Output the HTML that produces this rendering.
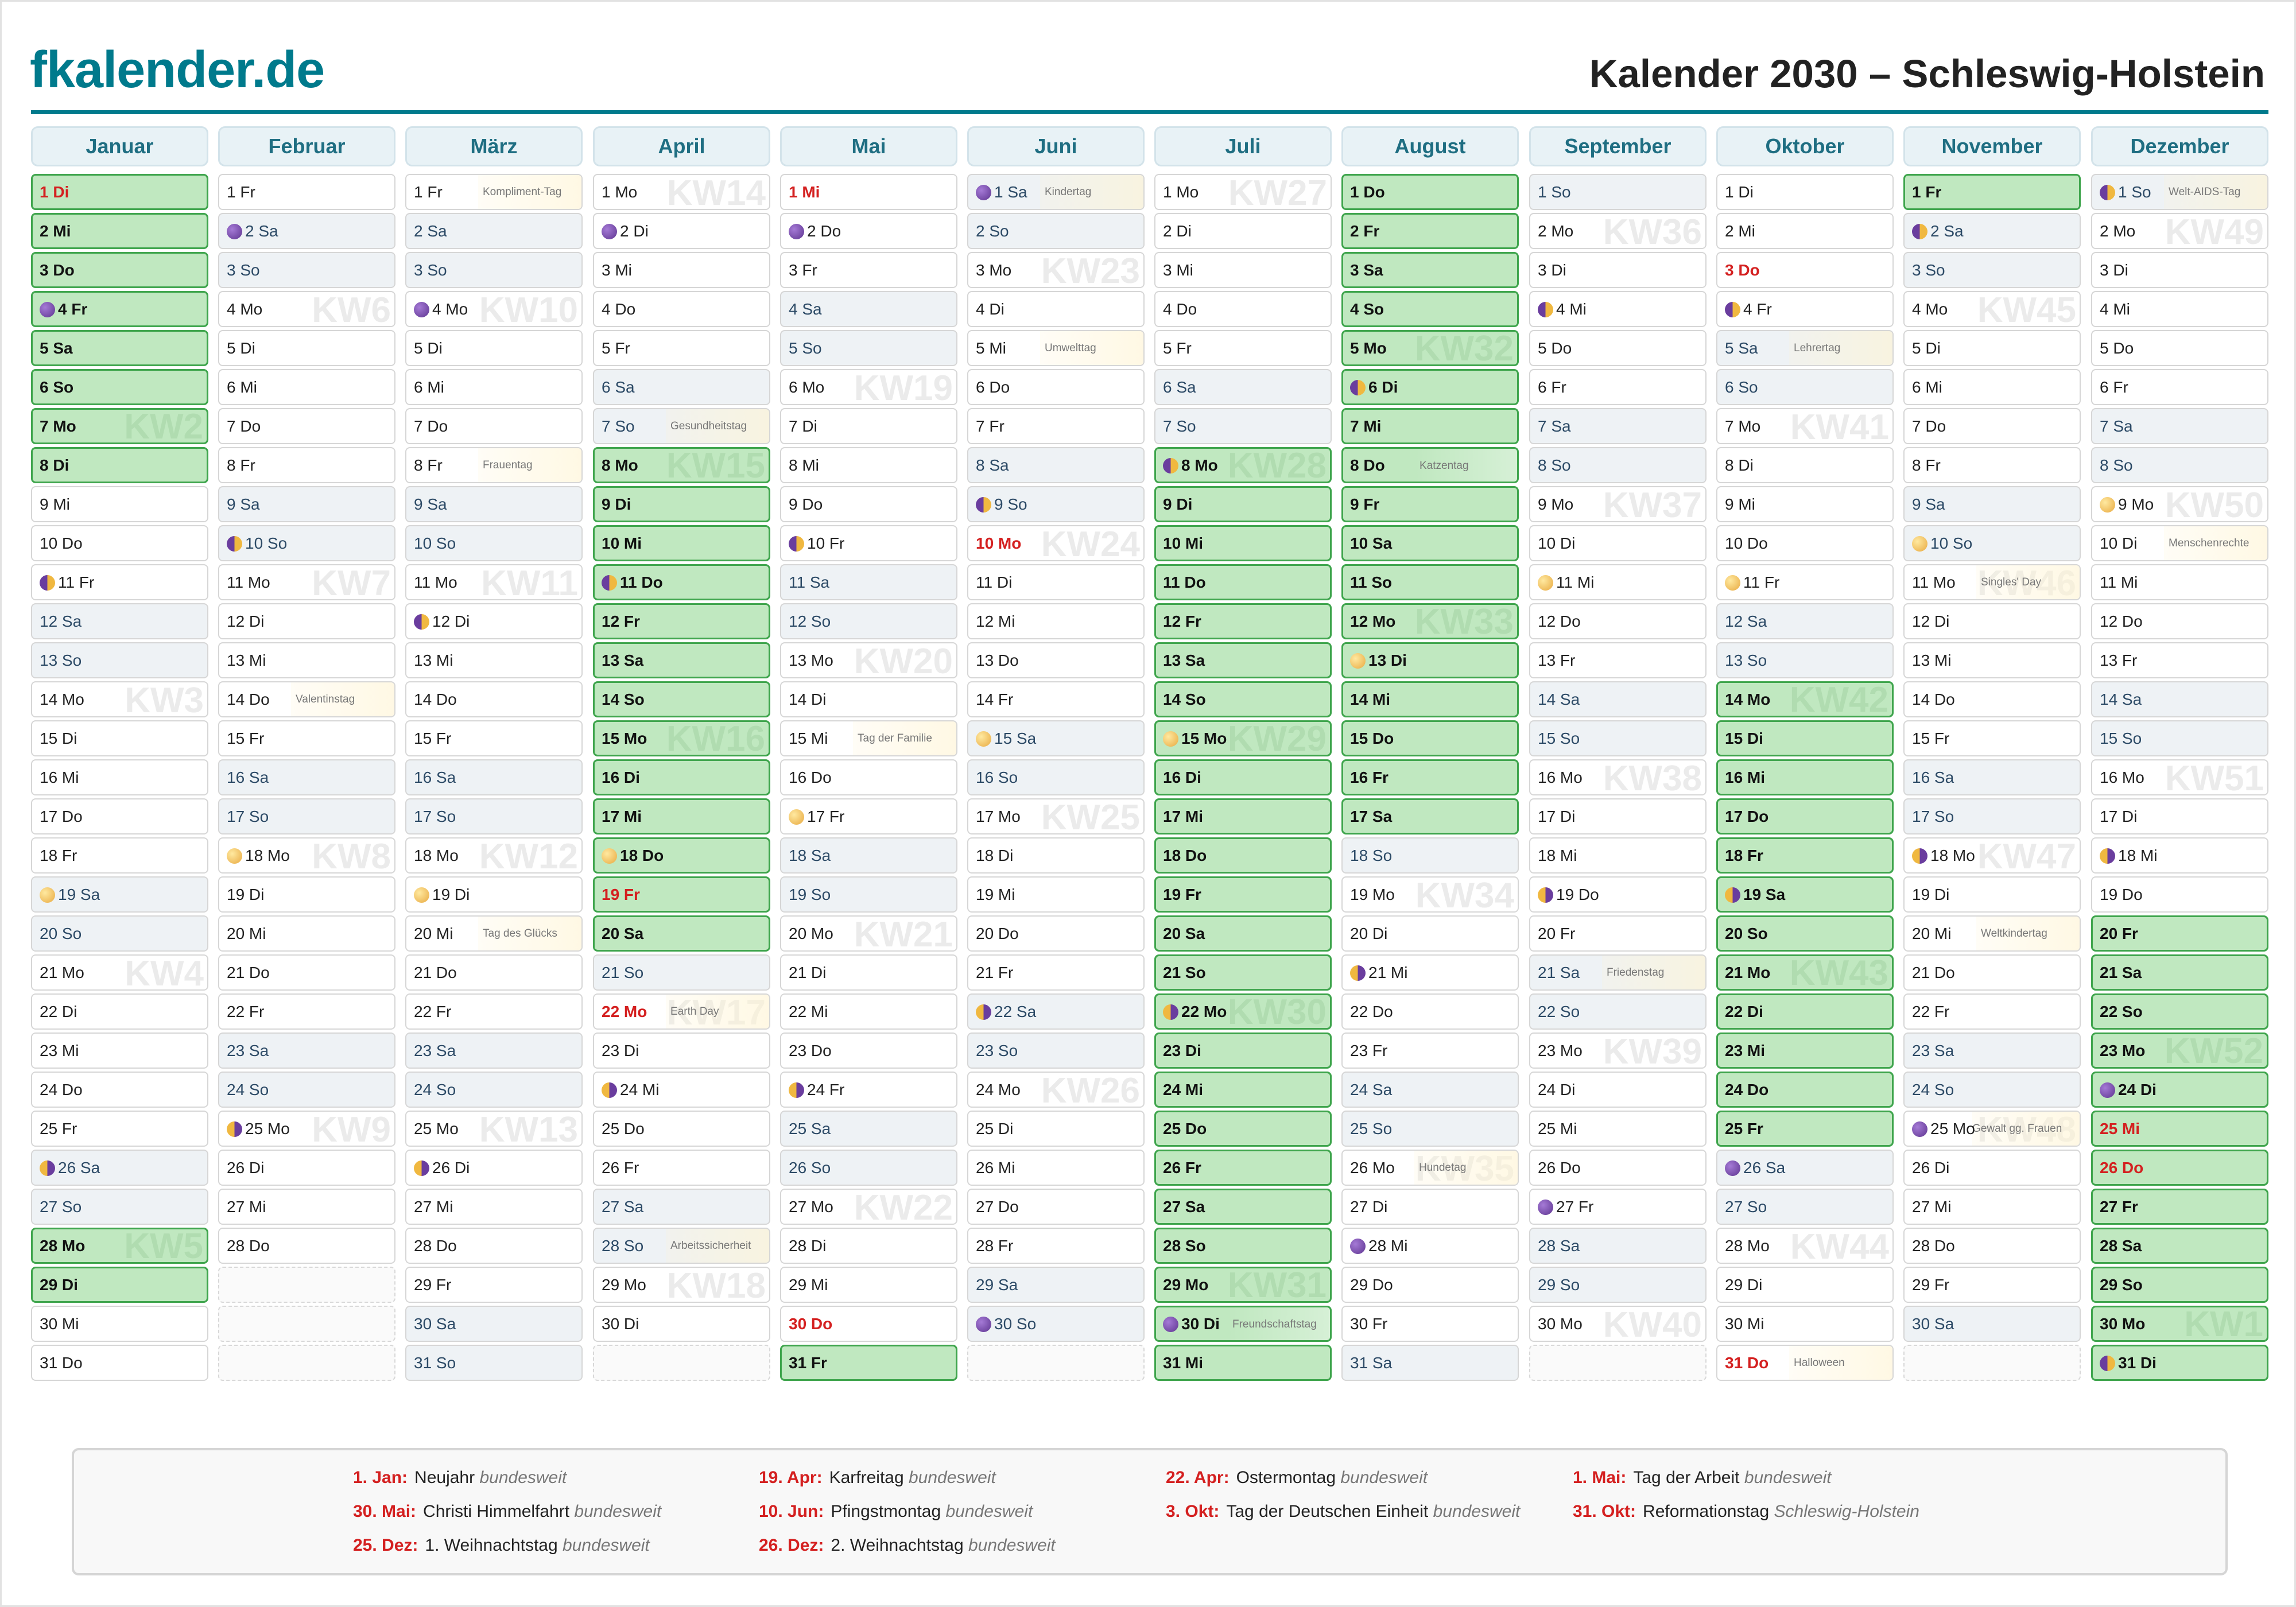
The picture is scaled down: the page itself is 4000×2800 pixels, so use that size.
<!DOCTYPE html>
<html><head><meta charset="utf-8">
<style>
*{box-sizing:border-box;margin:0;padding:0}
body{width:4000px;height:2800px;background:#fff;font-family:"Liberation Sans","DejaVu Sans",sans-serif;position:relative;overflow:hidden;border:3px solid #e2e2e2}
.logo{position:absolute;left:49px;top:68px;font-size:90px;font-weight:bold;color:#007a8c;letter-spacing:-1px}
.title{position:absolute;right:51px;top:86px;font-size:69px;font-weight:bold;color:#222}
.line{position:absolute;left:51px;width:3898px;top:189px;height:7px;background:#007a8c}
.col{position:absolute;top:217px;width:309px}
.h{height:70px;margin-bottom:13px;border:3px solid #d3e3ea;border-radius:12px;background:#e8f2f6;text-align:center;line-height:64px;font-size:36px;font-weight:bold;color:#1f6e82}
.c{position:relative;height:63px;margin-bottom:5px;border:2px solid #d6d6d6;border-radius:8px;background:#fff;font-size:28px;line-height:59px;padding-left:13px;color:#222;overflow:hidden;white-space:nowrap}
.c span{position:relative}
.w{background:#eef2f5;color:#2c4a66}
.g{background:#c0e8c0;border:3px solid #3fa54d;font-weight:bold;color:#111;line-height:57px;padding-left:12px}
.r{color:#d42020!important;font-weight:bold}
.e{border:2px dashed #d8d8d8;background:#fafafa}
.k{position:absolute;right:6px;top:0;font-size:62px;font-weight:bold;color:#ebebeb;line-height:63px}
.g .k{color:#b0dcb0;line-height:59px}
.m{display:inline-block;width:27px;height:27px;border-radius:50%;vertical-align:-5px;margin-right:5px;position:relative}
.n{background:radial-gradient(circle at 35% 35%,#a57ad6,#5e3590)}
.f{background:radial-gradient(circle at 35% 35%,#ffe9a0,#e8a940)}
.h1{background:linear-gradient(90deg,#f0b840 50%,#6a3d9e 50%)}
.h2{background:linear-gradient(90deg,#6a3d9e 50%,#f0b840 50%)}
.s{position:absolute;left:125px;top:0;right:0;padding-left:8px;font-size:19px;color:#777;font-weight:normal;background:linear-gradient(90deg,rgba(255,244,210,.2),rgba(255,244,210,.6));line-height:59px}
.g .s{background:linear-gradient(90deg,rgba(255,255,255,0),rgba(255,255,255,.35))}
.leg{position:absolute;left:122px;top:2520px;width:3756px;height:222px;border:4px solid #d5d5d5;border-radius:12px;background:#f8f8f8}
.li{position:absolute;font-size:30px;color:#222;white-space:nowrap}
.li b{color:#d42020;margin-right:12px}
.li i{color:#777}
</style></head><body>
<div class="logo">fkalender.de</div>
<div class="title">Kalender 2030 – Schleswig-Holstein</div>
<div class="line"></div>

<div class="col" style="left:51px"><div class="h">Januar</div>
<div class="c g r"><span>1 Di</span></div>
<div class="c g"><span>2 Mi</span></div>
<div class="c g"><span>3 Do</span></div>
<div class="c g"><i class="m n"></i><span>4 Fr</span></div>
<div class="c g"><span>5 Sa</span></div>
<div class="c g"><span>6 So</span></div>
<div class="c g"><b class="k">KW2</b><span>7 Mo</span></div>
<div class="c g"><span>8 Di</span></div>
<div class="c"><span>9 Mi</span></div>
<div class="c"><span>10 Do</span></div>
<div class="c"><i class="m h2"></i><span>11 Fr</span></div>
<div class="c w"><span>12 Sa</span></div>
<div class="c w"><span>13 So</span></div>
<div class="c"><b class="k">KW3</b><span>14 Mo</span></div>
<div class="c"><span>15 Di</span></div>
<div class="c"><span>16 Mi</span></div>
<div class="c"><span>17 Do</span></div>
<div class="c"><span>18 Fr</span></div>
<div class="c w"><i class="m f"></i><span>19 Sa</span></div>
<div class="c w"><span>20 So</span></div>
<div class="c"><b class="k">KW4</b><span>21 Mo</span></div>
<div class="c"><span>22 Di</span></div>
<div class="c"><span>23 Mi</span></div>
<div class="c"><span>24 Do</span></div>
<div class="c"><span>25 Fr</span></div>
<div class="c w"><i class="m h1"></i><span>26 Sa</span></div>
<div class="c w"><span>27 So</span></div>
<div class="c g"><b class="k">KW5</b><span>28 Mo</span></div>
<div class="c g"><span>29 Di</span></div>
<div class="c"><span>30 Mi</span></div>
<div class="c"><span>31 Do</span></div>
</div>

<div class="col" style="left:377px"><div class="h">Februar</div>
<div class="c"><span>1 Fr</span></div>
<div class="c w"><i class="m n"></i><span>2 Sa</span></div>
<div class="c w"><span>3 So</span></div>
<div class="c"><b class="k">KW6</b><span>4 Mo</span></div>
<div class="c"><span>5 Di</span></div>
<div class="c"><span>6 Mi</span></div>
<div class="c"><span>7 Do</span></div>
<div class="c"><span>8 Fr</span></div>
<div class="c w"><span>9 Sa</span></div>
<div class="c w"><i class="m h2"></i><span>10 So</span></div>
<div class="c"><b class="k">KW7</b><span>11 Mo</span></div>
<div class="c"><span>12 Di</span></div>
<div class="c"><span>13 Mi</span></div>
<div class="c"><div class="s">Valentinstag</div><span>14 Do</span></div>
<div class="c"><span>15 Fr</span></div>
<div class="c w"><span>16 Sa</span></div>
<div class="c w"><span>17 So</span></div>
<div class="c"><b class="k">KW8</b><i class="m f"></i><span>18 Mo</span></div>
<div class="c"><span>19 Di</span></div>
<div class="c"><span>20 Mi</span></div>
<div class="c"><span>21 Do</span></div>
<div class="c"><span>22 Fr</span></div>
<div class="c w"><span>23 Sa</span></div>
<div class="c w"><span>24 So</span></div>
<div class="c"><b class="k">KW9</b><i class="m h1"></i><span>25 Mo</span></div>
<div class="c"><span>26 Di</span></div>
<div class="c"><span>27 Mi</span></div>
<div class="c"><span>28 Do</span></div>
<div class="c e"></div>
<div class="c e"></div>
<div class="c e"></div>
</div>

<div class="col" style="left:703px"><div class="h">März</div>
<div class="c"><div class="s">Kompliment-Tag</div><span>1 Fr</span></div>
<div class="c w"><span>2 Sa</span></div>
<div class="c w"><span>3 So</span></div>
<div class="c"><b class="k">KW10</b><i class="m n"></i><span>4 Mo</span></div>
<div class="c"><span>5 Di</span></div>
<div class="c"><span>6 Mi</span></div>
<div class="c"><span>7 Do</span></div>
<div class="c"><div class="s">Frauentag</div><span>8 Fr</span></div>
<div class="c w"><span>9 Sa</span></div>
<div class="c w"><span>10 So</span></div>
<div class="c"><b class="k">KW11</b><span>11 Mo</span></div>
<div class="c"><i class="m h2"></i><span>12 Di</span></div>
<div class="c"><span>13 Mi</span></div>
<div class="c"><span>14 Do</span></div>
<div class="c"><span>15 Fr</span></div>
<div class="c w"><span>16 Sa</span></div>
<div class="c w"><span>17 So</span></div>
<div class="c"><b class="k">KW12</b><span>18 Mo</span></div>
<div class="c"><i class="m f"></i><span>19 Di</span></div>
<div class="c"><div class="s">Tag des Glücks</div><span>20 Mi</span></div>
<div class="c"><span>21 Do</span></div>
<div class="c"><span>22 Fr</span></div>
<div class="c w"><span>23 Sa</span></div>
<div class="c w"><span>24 So</span></div>
<div class="c"><b class="k">KW13</b><span>25 Mo</span></div>
<div class="c"><i class="m h1"></i><span>26 Di</span></div>
<div class="c"><span>27 Mi</span></div>
<div class="c"><span>28 Do</span></div>
<div class="c"><span>29 Fr</span></div>
<div class="c w"><span>30 Sa</span></div>
<div class="c w"><span>31 So</span></div>
</div>

<div class="col" style="left:1030px"><div class="h">April</div>
<div class="c"><b class="k">KW14</b><span>1 Mo</span></div>
<div class="c"><i class="m n"></i><span>2 Di</span></div>
<div class="c"><span>3 Mi</span></div>
<div class="c"><span>4 Do</span></div>
<div class="c"><span>5 Fr</span></div>
<div class="c w"><span>6 Sa</span></div>
<div class="c w"><div class="s">Gesundheitstag</div><span>7 So</span></div>
<div class="c g"><b class="k">KW15</b><span>8 Mo</span></div>
<div class="c g"><span>9 Di</span></div>
<div class="c g"><span>10 Mi</span></div>
<div class="c g"><i class="m h2"></i><span>11 Do</span></div>
<div class="c g"><span>12 Fr</span></div>
<div class="c g"><span>13 Sa</span></div>
<div class="c g"><span>14 So</span></div>
<div class="c g"><b class="k">KW16</b><span>15 Mo</span></div>
<div class="c g"><span>16 Di</span></div>
<div class="c g"><span>17 Mi</span></div>
<div class="c g"><i class="m f"></i><span>18 Do</span></div>
<div class="c g r"><span>19 Fr</span></div>
<div class="c g"><span>20 Sa</span></div>
<div class="c w"><span>21 So</span></div>
<div class="c r"><b class="k">KW17</b><div class="s">Earth Day</div><span>22 Mo</span></div>
<div class="c"><span>23 Di</span></div>
<div class="c"><i class="m h1"></i><span>24 Mi</span></div>
<div class="c"><span>25 Do</span></div>
<div class="c"><span>26 Fr</span></div>
<div class="c w"><span>27 Sa</span></div>
<div class="c w"><div class="s">Arbeitssicherheit</div><span>28 So</span></div>
<div class="c"><b class="k">KW18</b><span>29 Mo</span></div>
<div class="c"><span>30 Di</span></div>
<div class="c e"></div>
</div>

<div class="col" style="left:1356px"><div class="h">Mai</div>
<div class="c r"><span>1 Mi</span></div>
<div class="c"><i class="m n"></i><span>2 Do</span></div>
<div class="c"><span>3 Fr</span></div>
<div class="c w"><span>4 Sa</span></div>
<div class="c w"><span>5 So</span></div>
<div class="c"><b class="k">KW19</b><span>6 Mo</span></div>
<div class="c"><span>7 Di</span></div>
<div class="c"><span>8 Mi</span></div>
<div class="c"><span>9 Do</span></div>
<div class="c"><i class="m h2"></i><span>10 Fr</span></div>
<div class="c w"><span>11 Sa</span></div>
<div class="c w"><span>12 So</span></div>
<div class="c"><b class="k">KW20</b><span>13 Mo</span></div>
<div class="c"><span>14 Di</span></div>
<div class="c"><div class="s">Tag der Familie</div><span>15 Mi</span></div>
<div class="c"><span>16 Do</span></div>
<div class="c"><i class="m f"></i><span>17 Fr</span></div>
<div class="c w"><span>18 Sa</span></div>
<div class="c w"><span>19 So</span></div>
<div class="c"><b class="k">KW21</b><span>20 Mo</span></div>
<div class="c"><span>21 Di</span></div>
<div class="c"><span>22 Mi</span></div>
<div class="c"><span>23 Do</span></div>
<div class="c"><i class="m h1"></i><span>24 Fr</span></div>
<div class="c w"><span>25 Sa</span></div>
<div class="c w"><span>26 So</span></div>
<div class="c"><b class="k">KW22</b><span>27 Mo</span></div>
<div class="c"><span>28 Di</span></div>
<div class="c"><span>29 Mi</span></div>
<div class="c r"><span>30 Do</span></div>
<div class="c g"><span>31 Fr</span></div>
</div>

<div class="col" style="left:1682px"><div class="h">Juni</div>
<div class="c w"><div class="s">Kindertag</div><i class="m n"></i><span>1 Sa</span></div>
<div class="c w"><span>2 So</span></div>
<div class="c"><b class="k">KW23</b><span>3 Mo</span></div>
<div class="c"><span>4 Di</span></div>
<div class="c"><div class="s">Umwelttag</div><span>5 Mi</span></div>
<div class="c"><span>6 Do</span></div>
<div class="c"><span>7 Fr</span></div>
<div class="c w"><span>8 Sa</span></div>
<div class="c w"><i class="m h2"></i><span>9 So</span></div>
<div class="c r"><b class="k">KW24</b><span>10 Mo</span></div>
<div class="c"><span>11 Di</span></div>
<div class="c"><span>12 Mi</span></div>
<div class="c"><span>13 Do</span></div>
<div class="c"><span>14 Fr</span></div>
<div class="c w"><i class="m f"></i><span>15 Sa</span></div>
<div class="c w"><span>16 So</span></div>
<div class="c"><b class="k">KW25</b><span>17 Mo</span></div>
<div class="c"><span>18 Di</span></div>
<div class="c"><span>19 Mi</span></div>
<div class="c"><span>20 Do</span></div>
<div class="c"><span>21 Fr</span></div>
<div class="c w"><i class="m h1"></i><span>22 Sa</span></div>
<div class="c w"><span>23 So</span></div>
<div class="c"><b class="k">KW26</b><span>24 Mo</span></div>
<div class="c"><span>25 Di</span></div>
<div class="c"><span>26 Mi</span></div>
<div class="c"><span>27 Do</span></div>
<div class="c"><span>28 Fr</span></div>
<div class="c w"><span>29 Sa</span></div>
<div class="c w"><i class="m n"></i><span>30 So</span></div>
<div class="c e"></div>
</div>

<div class="col" style="left:2008px"><div class="h">Juli</div>
<div class="c"><b class="k">KW27</b><span>1 Mo</span></div>
<div class="c"><span>2 Di</span></div>
<div class="c"><span>3 Mi</span></div>
<div class="c"><span>4 Do</span></div>
<div class="c"><span>5 Fr</span></div>
<div class="c w"><span>6 Sa</span></div>
<div class="c w"><span>7 So</span></div>
<div class="c g"><b class="k">KW28</b><i class="m h2"></i><span>8 Mo</span></div>
<div class="c g"><span>9 Di</span></div>
<div class="c g"><span>10 Mi</span></div>
<div class="c g"><span>11 Do</span></div>
<div class="c g"><span>12 Fr</span></div>
<div class="c g"><span>13 Sa</span></div>
<div class="c g"><span>14 So</span></div>
<div class="c g"><b class="k">KW29</b><i class="m f"></i><span>15 Mo</span></div>
<div class="c g"><span>16 Di</span></div>
<div class="c g"><span>17 Mi</span></div>
<div class="c g"><span>18 Do</span></div>
<div class="c g"><span>19 Fr</span></div>
<div class="c g"><span>20 Sa</span></div>
<div class="c g"><span>21 So</span></div>
<div class="c g"><b class="k">KW30</b><i class="m h1"></i><span>22 Mo</span></div>
<div class="c g"><span>23 Di</span></div>
<div class="c g"><span>24 Mi</span></div>
<div class="c g"><span>25 Do</span></div>
<div class="c g"><span>26 Fr</span></div>
<div class="c g"><span>27 Sa</span></div>
<div class="c g"><span>28 So</span></div>
<div class="c g"><b class="k">KW31</b><span>29 Mo</span></div>
<div class="c g"><div class="s">Freundschaftstag</div><i class="m n"></i><span>30 Di</span></div>
<div class="c g"><span>31 Mi</span></div>
</div>

<div class="col" style="left:2334px"><div class="h">August</div>
<div class="c g"><span>1 Do</span></div>
<div class="c g"><span>2 Fr</span></div>
<div class="c g"><span>3 Sa</span></div>
<div class="c g"><span>4 So</span></div>
<div class="c g"><b class="k">KW32</b><span>5 Mo</span></div>
<div class="c g"><i class="m h2"></i><span>6 Di</span></div>
<div class="c g"><span>7 Mi</span></div>
<div class="c g"><div class="s">Katzentag</div><span>8 Do</span></div>
<div class="c g"><span>9 Fr</span></div>
<div class="c g"><span>10 Sa</span></div>
<div class="c g"><span>11 So</span></div>
<div class="c g"><b class="k">KW33</b><span>12 Mo</span></div>
<div class="c g"><i class="m f"></i><span>13 Di</span></div>
<div class="c g"><span>14 Mi</span></div>
<div class="c g"><span>15 Do</span></div>
<div class="c g"><span>16 Fr</span></div>
<div class="c g"><span>17 Sa</span></div>
<div class="c w"><span>18 So</span></div>
<div class="c"><b class="k">KW34</b><span>19 Mo</span></div>
<div class="c"><span>20 Di</span></div>
<div class="c"><i class="m h1"></i><span>21 Mi</span></div>
<div class="c"><span>22 Do</span></div>
<div class="c"><span>23 Fr</span></div>
<div class="c w"><span>24 Sa</span></div>
<div class="c w"><span>25 So</span></div>
<div class="c"><b class="k">KW35</b><div class="s">Hundetag</div><span>26 Mo</span></div>
<div class="c"><span>27 Di</span></div>
<div class="c"><i class="m n"></i><span>28 Mi</span></div>
<div class="c"><span>29 Do</span></div>
<div class="c"><span>30 Fr</span></div>
<div class="c w"><span>31 Sa</span></div>
</div>

<div class="col" style="left:2661px"><div class="h">September</div>
<div class="c w"><span>1 So</span></div>
<div class="c"><b class="k">KW36</b><span>2 Mo</span></div>
<div class="c"><span>3 Di</span></div>
<div class="c"><i class="m h2"></i><span>4 Mi</span></div>
<div class="c"><span>5 Do</span></div>
<div class="c"><span>6 Fr</span></div>
<div class="c w"><span>7 Sa</span></div>
<div class="c w"><span>8 So</span></div>
<div class="c"><b class="k">KW37</b><span>9 Mo</span></div>
<div class="c"><span>10 Di</span></div>
<div class="c"><i class="m f"></i><span>11 Mi</span></div>
<div class="c"><span>12 Do</span></div>
<div class="c"><span>13 Fr</span></div>
<div class="c w"><span>14 Sa</span></div>
<div class="c w"><span>15 So</span></div>
<div class="c"><b class="k">KW38</b><span>16 Mo</span></div>
<div class="c"><span>17 Di</span></div>
<div class="c"><span>18 Mi</span></div>
<div class="c"><i class="m h1"></i><span>19 Do</span></div>
<div class="c"><span>20 Fr</span></div>
<div class="c w"><div class="s">Friedenstag</div><span>21 Sa</span></div>
<div class="c w"><span>22 So</span></div>
<div class="c"><b class="k">KW39</b><span>23 Mo</span></div>
<div class="c"><span>24 Di</span></div>
<div class="c"><span>25 Mi</span></div>
<div class="c"><span>26 Do</span></div>
<div class="c"><i class="m n"></i><span>27 Fr</span></div>
<div class="c w"><span>28 Sa</span></div>
<div class="c w"><span>29 So</span></div>
<div class="c"><b class="k">KW40</b><span>30 Mo</span></div>
<div class="c e"></div>
</div>

<div class="col" style="left:2987px"><div class="h">Oktober</div>
<div class="c"><span>1 Di</span></div>
<div class="c"><span>2 Mi</span></div>
<div class="c r"><span>3 Do</span></div>
<div class="c"><i class="m h2"></i><span>4 Fr</span></div>
<div class="c w"><div class="s">Lehrertag</div><span>5 Sa</span></div>
<div class="c w"><span>6 So</span></div>
<div class="c"><b class="k">KW41</b><span>7 Mo</span></div>
<div class="c"><span>8 Di</span></div>
<div class="c"><span>9 Mi</span></div>
<div class="c"><span>10 Do</span></div>
<div class="c"><i class="m f"></i><span>11 Fr</span></div>
<div class="c w"><span>12 Sa</span></div>
<div class="c w"><span>13 So</span></div>
<div class="c g"><b class="k">KW42</b><span>14 Mo</span></div>
<div class="c g"><span>15 Di</span></div>
<div class="c g"><span>16 Mi</span></div>
<div class="c g"><span>17 Do</span></div>
<div class="c g"><span>18 Fr</span></div>
<div class="c g"><i class="m h1"></i><span>19 Sa</span></div>
<div class="c g"><span>20 So</span></div>
<div class="c g"><b class="k">KW43</b><span>21 Mo</span></div>
<div class="c g"><span>22 Di</span></div>
<div class="c g"><span>23 Mi</span></div>
<div class="c g"><span>24 Do</span></div>
<div class="c g"><span>25 Fr</span></div>
<div class="c w"><i class="m n"></i><span>26 Sa</span></div>
<div class="c w"><span>27 So</span></div>
<div class="c"><b class="k">KW44</b><span>28 Mo</span></div>
<div class="c"><span>29 Di</span></div>
<div class="c"><span>30 Mi</span></div>
<div class="c r"><div class="s">Halloween</div><span>31 Do</span></div>
</div>

<div class="col" style="left:3313px"><div class="h">November</div>
<div class="c g"><span>1 Fr</span></div>
<div class="c w"><i class="m h2"></i><span>2 Sa</span></div>
<div class="c w"><span>3 So</span></div>
<div class="c"><b class="k">KW45</b><span>4 Mo</span></div>
<div class="c"><span>5 Di</span></div>
<div class="c"><span>6 Mi</span></div>
<div class="c"><span>7 Do</span></div>
<div class="c"><span>8 Fr</span></div>
<div class="c w"><span>9 Sa</span></div>
<div class="c w"><i class="m f"></i><span>10 So</span></div>
<div class="c"><b class="k">KW46</b><div class="s">Singles' Day</div><span>11 Mo</span></div>
<div class="c"><span>12 Di</span></div>
<div class="c"><span>13 Mi</span></div>
<div class="c"><span>14 Do</span></div>
<div class="c"><span>15 Fr</span></div>
<div class="c w"><span>16 Sa</span></div>
<div class="c w"><span>17 So</span></div>
<div class="c"><b class="k">KW47</b><i class="m h1"></i><span>18 Mo</span></div>
<div class="c"><span>19 Di</span></div>
<div class="c"><div class="s">Weltkindertag</div><span>20 Mi</span></div>
<div class="c"><span>21 Do</span></div>
<div class="c"><span>22 Fr</span></div>
<div class="c w"><span>23 Sa</span></div>
<div class="c w"><span>24 So</span></div>
<div class="c"><b class="k">KW48</b><div class="s" style="left:118px;padding-left:0">Gewalt gg. Frauen</div><i class="m n"></i><span>25 Mo</span></div>
<div class="c"><span>26 Di</span></div>
<div class="c"><span>27 Mi</span></div>
<div class="c"><span>28 Do</span></div>
<div class="c"><span>29 Fr</span></div>
<div class="c w"><span>30 Sa</span></div>
<div class="c e"></div>
</div>

<div class="col" style="left:3640px"><div class="h">Dezember</div>
<div class="c w"><div class="s">Welt-AIDS-Tag</div><i class="m h2"></i><span>1 So</span></div>
<div class="c"><b class="k">KW49</b><span>2 Mo</span></div>
<div class="c"><span>3 Di</span></div>
<div class="c"><span>4 Mi</span></div>
<div class="c"><span>5 Do</span></div>
<div class="c"><span>6 Fr</span></div>
<div class="c w"><span>7 Sa</span></div>
<div class="c w"><span>8 So</span></div>
<div class="c"><b class="k">KW50</b><i class="m f"></i><span>9 Mo</span></div>
<div class="c"><div class="s">Menschenrechte</div><span>10 Di</span></div>
<div class="c"><span>11 Mi</span></div>
<div class="c"><span>12 Do</span></div>
<div class="c"><span>13 Fr</span></div>
<div class="c w"><span>14 Sa</span></div>
<div class="c w"><span>15 So</span></div>
<div class="c"><b class="k">KW51</b><span>16 Mo</span></div>
<div class="c"><span>17 Di</span></div>
<div class="c"><i class="m h1"></i><span>18 Mi</span></div>
<div class="c"><span>19 Do</span></div>
<div class="c g"><span>20 Fr</span></div>
<div class="c g"><span>21 Sa</span></div>
<div class="c g"><span>22 So</span></div>
<div class="c g"><b class="k">KW52</b><span>23 Mo</span></div>
<div class="c g"><i class="m n"></i><span>24 Di</span></div>
<div class="c g r"><span>25 Mi</span></div>
<div class="c g r"><span>26 Do</span></div>
<div class="c g"><span>27 Fr</span></div>
<div class="c g"><span>28 Sa</span></div>
<div class="c g"><span>29 So</span></div>
<div class="c g"><b class="k">KW1</b><span>30 Mo</span></div>
<div class="c g"><i class="m h2"></i><span>31 Di</span></div>
</div>

<div class="leg"></div>
<div class="li" style="left:612px;top:2555px"><b>1. Jan:</b>Neujahr <i>bundesweit</i></div>
<div class="li" style="left:612px;top:2614px"><b>30. Mai:</b>Christi Himmelfahrt <i>bundesweit</i></div>
<div class="li" style="left:612px;top:2673px"><b>25. Dez:</b>1. Weihnachtstag <i>bundesweit</i></div>
<div class="li" style="left:1319px;top:2555px"><b>19. Apr:</b>Karfreitag <i>bundesweit</i></div>
<div class="li" style="left:1319px;top:2614px"><b>10. Jun:</b>Pfingstmontag <i>bundesweit</i></div>
<div class="li" style="left:1319px;top:2673px"><b>26. Dez:</b>2. Weihnachtstag <i>bundesweit</i></div>
<div class="li" style="left:2028px;top:2555px"><b>22. Apr:</b>Ostermontag <i>bundesweit</i></div>
<div class="li" style="left:2028px;top:2614px"><b>3. Okt:</b>Tag der Deutschen Einheit <i>bundesweit</i></div>
<div class="li" style="left:2737px;top:2555px"><b>1. Mai:</b>Tag der Arbeit <i>bundesweit</i></div>
<div class="li" style="left:2737px;top:2614px"><b>31. Okt:</b>Reformationstag <i>Schleswig-Holstein</i></div>
</body></html>
